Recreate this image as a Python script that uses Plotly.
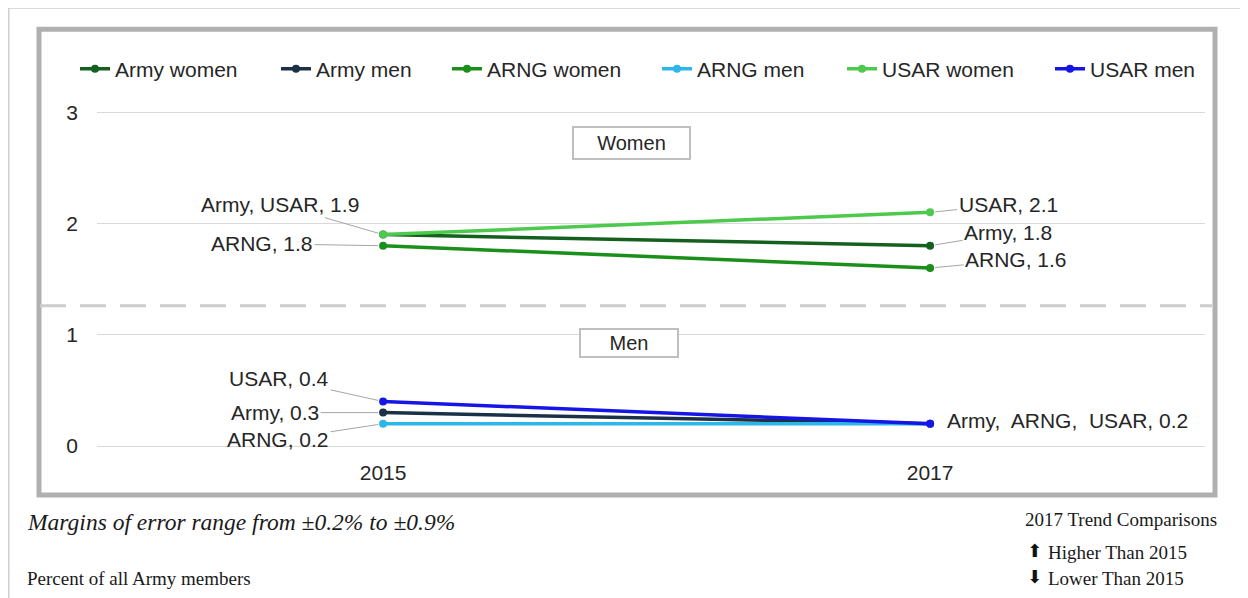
import plotly.graph_objects as go

# ---------------- data ----------------
years = [2015, 2017]
series_names = ["Army women", "Army men", "ARNG women", "ARNG men", "USAR women", "USAR men"]
army_women = [1.9, 1.8]
army_men = [0.3, 0.2]
arng_women = [1.8, 1.6]
arng_men = [0.2, 0.2]
usar_women = [1.9, 2.1]
usar_men = [0.4, 0.2]
y_tick_values = [0, 1, 2, 3]
x_tick_labels = ["2015", "2017"]
section_labels = ["Women", "Men"]
section_divider = 1.26

series_values = [army_women, army_men, arng_women, arng_men, usar_women, usar_men]

# ---------------- styles ----------------
colors = ["#16601f", "#1b3146", "#1b8f1b", "#2bb8e8", "#4dc94d", "#1515e6"]
W, H = 1248, 598
OFF = 8                                   # page body margin
UNIT = 111.33                             # px per y unit
L, R = 97 - OFF, 1205 - OFF               # plot area in figure pixels
B = 446 - OFF
YMIN, YMAX = 0, 3.02
T = B - (YMAX - YMIN) * UNIT
XMIN, XMAX = 2013.954, 2018.005
FONT = "Liberation Sans, Arial, sans-serif"
SERIF = "Liberation Serif, Times New Roman, serif"
TXT = "#262626"


def px(xp):
    """reference-screenshot x pixel -> paper x"""
    return (xp - OFF - L) / (R - L)


def py(yp):
    """reference-screenshot y pixel -> paper y"""
    return (B - (yp - OFF)) / (B - T)


fig = go.Figure()

legend_x_px = [75, 276, 447, 657, 842, 1050]
for i, (name, vals) in enumerate(zip(series_names, series_values)):
    lg = "legend" if i == 0 else f"legend{i + 1}"
    fig.add_trace(go.Scatter(
        x=years, y=vals, name=name, mode="lines+markers",
        line=dict(color=colors[i], width=3.5),
        marker=dict(color=colors[i], size=8),
        legend=lg, showlegend=True, hoverinfo="x+y+name",
    ))

legend_layout = {}
for i, xp in enumerate(legend_x_px):
    key = "legend" if i == 0 else f"legend{i + 1}"
    legend_layout[key] = dict(
        x=(xp - OFF) / W, xref="container", xanchor="left",
        y=1 - (69 - OFF) / H, yref="container", yanchor="middle",
        orientation="h", bgcolor="rgba(0,0,0,0)",
        font=dict(family=FONT, size=21, color=TXT),
        itemclick=False, itemdoubleclick=False,
    )


def lbl(names, v):
    return ", ".join(names) + ", " + f"{v:.1f}"


# data labels with leader lines: (year idx, names, value, ax, ay)
labels = [
    (0, ["Army", "USAR"], usar_women[0], -103, -30),
    (0, ["ARNG"], arng_women[0], -121, -2),
    (1, ["USAR"], usar_women[1], 78, -8),
    (1, ["Army"], army_women[1], 78, -13),
    (1, ["ARNG"], arng_women[1], 86, -8),
    (0, ["USAR"], usar_men[0], -104, -23),
    (0, ["Army"], army_men[0], -108, 0),
    (0, ["ARNG"], arng_men[0], -105, 16),
]
annotations = []
for yi, names, v, ax, ay in labels:
    annotations.append(dict(
        x=years[yi], y=v, xref="x", yref="y", text=lbl(names, v),
        showarrow=True, ax=ax, ay=ay, arrowhead=0, arrowwidth=1,
        arrowcolor="#a6a6a6", standoff=5,
        font=dict(family=FONT, size=21, color=TXT),
    ))
annotations.append(dict(
    x=years[1], y=usar_men[1], xref="x", yref="y",
    text=lbl(["Army", "ARNG", "USAR"], usar_men[1]).replace(", ", ",  ", 2), showarrow=False,
    xanchor="left", xshift=15, yshift=3,
    font=dict(family=FONT, size=21, color=TXT),
))

# section boxes
annotations.append(dict(
    x=px(631), y=2.72, xref="paper", yref="y", text=section_labels[0],
    showarrow=False, width=113, height=28, borderpad=1, borderwidth=2,
    bordercolor="#bfbfbf", bgcolor="white",
    font=dict(family=FONT, size=20, color=TXT),
))
annotations.append(dict(
    x=px(629), y=0.925, xref="paper", yref="y", text=section_labels[1],
    showarrow=False, width=94, height=24, borderpad=1, borderwidth=2,
    bordercolor="#bfbfbf", bgcolor="white",
    font=dict(family=FONT, size=20, color=TXT),
))

# footer texts
FOOT = "#1a1a1a"
annotations += [
    dict(x=px(25), y=py(522), xref="paper", yref="paper", xanchor="left", yanchor="middle",
         text="<i>Margins of error range from ±0.2% to ±0.9%</i>", showarrow=False,
         font=dict(family=SERIF, size=23.5, color=FOOT)),
    dict(x=px(25), y=py(579), xref="paper", yref="paper", xanchor="left", yanchor="middle",
         text="Percent of all Army members", showarrow=False,
         font=dict(family=SERIF, size=19, color=FOOT)),
    dict(x=px(1219), y=py(520), xref="paper", yref="paper", xanchor="right", yanchor="middle",
         text="2017 Trend Comparisons", showarrow=False,
         font=dict(family=SERIF, size=19, color=FOOT)),
    dict(x=px(1046), y=py(553), xref="paper", yref="paper", xanchor="left", yanchor="middle",
         text="Higher Than 2015", showarrow=False,
         font=dict(family=SERIF, size=19, color=FOOT)),
    dict(x=px(1046), y=py(579), xref="paper", yref="paper", xanchor="left", yanchor="middle",
         text="Lower Than 2015", showarrow=False,
         font=dict(family=SERIF, size=19, color=FOOT)),
    dict(x=px(1034), y=py(551), xref="paper", yref="paper", xanchor="center", yanchor="middle",
         text="⬆", showarrow=False,
         font=dict(family="DejaVu Sans", size=18, color="#111111")),
    dict(x=px(1034), y=py(577), xref="paper", yref="paper", xanchor="center", yanchor="middle",
         text="⬇", showarrow=False,
         font=dict(family="DejaVu Sans", size=18, color="#111111")),
]

shapes = [
    # outer page frame
    dict(type="rect", xref="paper", yref="paper", x0=px(8), x1=px(1270), y0=py(650), y1=py(7),
         line=dict(color="#cfcfcf", width=3), layer="below"),
    # chart box
    dict(type="rect", xref="paper", yref="paper", x0=px(39), x1=px(1215), y0=py(495), y1=py(29),
         line=dict(color="#b0b0b0", width=5), layer="below"),
    # divider
    dict(type="line", xref="paper", yref="y", x0=px(40), x1=px(1212),
         y0=section_divider, y1=section_divider,
         line=dict(color="#cccccc", width=3, dash="26px,14px"), layer="below"),
]

fig.update_layout(
    width=W, height=H,
    margin=dict(l=L, r=W - R, t=T, b=H - B, autoexpand=False),
    paper_bgcolor="white", plot_bgcolor="white",
    font=dict(family=FONT, size=21, color=TXT),
    annotations=annotations, shapes=shapes,
    hovermode="closest", showlegend=True,
    **legend_layout,
)
fig.update_xaxes(
    range=[XMIN, XMAX], tickvals=years, ticktext=x_tick_labels,
    showgrid=False, zeroline=False, showline=False, ticks="",
    ticklabelstandoff=12, tickfont=dict(family=FONT, size=21, color=TXT),
)
fig.update_yaxes(
    range=[YMIN, YMAX], tickvals=y_tick_values,
    showgrid=True, gridcolor="#d9d9d9", gridwidth=1,
    zeroline=True, zerolinecolor="#d9d9d9", zerolinewidth=1,
    showline=False, ticks="", ticklabelstandoff=18,
    tickfont=dict(family=FONT, size=21, color=TXT),
)

fig.write_html("out.html")
